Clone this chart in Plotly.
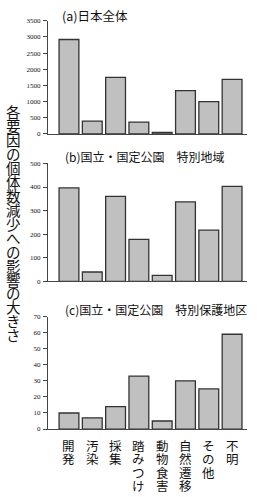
import plotly.graph_objects as go

categories = ["開発", "汚染", "採集", "踏みつけ", "動物食害", "自然遷移", "その他", "不明"]
vals_a = [2920, 395, 1745, 365, 45, 1340, 995, 1685]
vals_b = [396, 40, 360, 178, 26, 337, 217, 403]
vals_c = [10, 7, 14, 33, 5, 30, 25, 59]
ticks_a = [0, 500, 1000, 1500, 2000, 2500, 3000, 3500]
ticks_b = [0, 100, 200, 300, 400, 500]
ticks_c = [0, 10, 20, 30, 40, 50, 60, 70]
titles = ["(a)日本全体", "(b)国立・国定公園\u3000特別地域", "(c)国立・国定公園\u3000特別保護地区"]
ytitle = "各要因の個体数減少への影響の大きさ"

W, H = 257, 497
JP = "Noto Sans CJK JP"

def py(px):
    return 1 - px / H

def vertical(text, glyph_px):
    return "<br>".join('<span style="font-size:%spx">%s</span>' % (glyph_px, ch) for ch in text)

panels = [(17, 132, vals_a, ticks_a), (162, 282, vals_b, ticks_b), (317.7, 432, vals_c, ticks_c)]
xdom = [48 / W, 247 / W]

fig = go.Figure()
layout = dict(
    width=W, height=H,
    margin=dict(l=0, r=0, t=0, b=0),
    paper_bgcolor="white", plot_bgcolor="white",
    showlegend=False,
    font=dict(family=JP, color="#111"),
)
for i, (top, bot, vals, ticks) in enumerate(panels):
    n = "" if i == 0 else str(i + 1)
    fig.add_trace(go.Bar(
        x=list(range(len(categories))), y=vals,
        xaxis="x" + n, yaxis="y" + n,
        marker=dict(color="#c0c0c0", line=dict(color="#333333", width=1.3)),
        width=0.85,
        hoverinfo="skip",
    ))
    layout["xaxis" + n] = dict(
        domain=xdom, anchor="y" + n, range=[-0.9, 7.64],
        showticklabels=False, ticks="", showgrid=False, zeroline=False,
        showline=True, linecolor="#444", linewidth=1,
    )
    layout["yaxis" + n] = dict(
        domain=[py(bot), py(top)], anchor="x" + n,
        range=[0, ticks[-1]], tickvals=ticks,
        ticks="outside", ticklen=4, tickcolor="#444", tickwidth=1,
        showgrid=False, zeroline=False,
        showline=True, linecolor="#444", linewidth=1,
        tickfont=dict(family="Liberation Sans Narrow", size=7, color="#111"),
        ticklabelstandoff=1,
    )

annotations = []
title_pos = [(60, 12), (63, 155), (63, 310)]
title_sizes = [12.5, 12, 12]
for t, (tx, ty), s in zip(titles, title_pos, title_sizes):
    annotations.append(dict(
        text=t, xref="paper", yref="paper", x=tx / W, y=py(ty),
        xanchor="left", yanchor="middle", showarrow=False,
        font=dict(family=JP, size=s, color="#111"),
    ))

# vertical y-axis title (one character per line, tight line spacing)
annotations.append(dict(
    text=vertical(ytitle, 14.5), xref="paper", yref="paper",
    x=13 / W, y=py((110.7 + 334) / 2),
    xanchor="center", yanchor="middle", showarrow=False,
    font=dict(family=JP, size=13.96 / 1.3, color="#111"),
))

# vertical category labels under bottom panel
for i, lab in enumerate(categories):
    annotations.append(dict(
        text=vertical(lab, 12.5), xref="x3", yref="paper", x=i, y=py(437),
        xanchor="center", yanchor="top", showarrow=False,
        font=dict(family=JP, size=13.3 / 1.3, color="#111"),
    ))

layout["annotations"] = annotations
fig.update_layout(**layout)
fig.write_html("out.html")
